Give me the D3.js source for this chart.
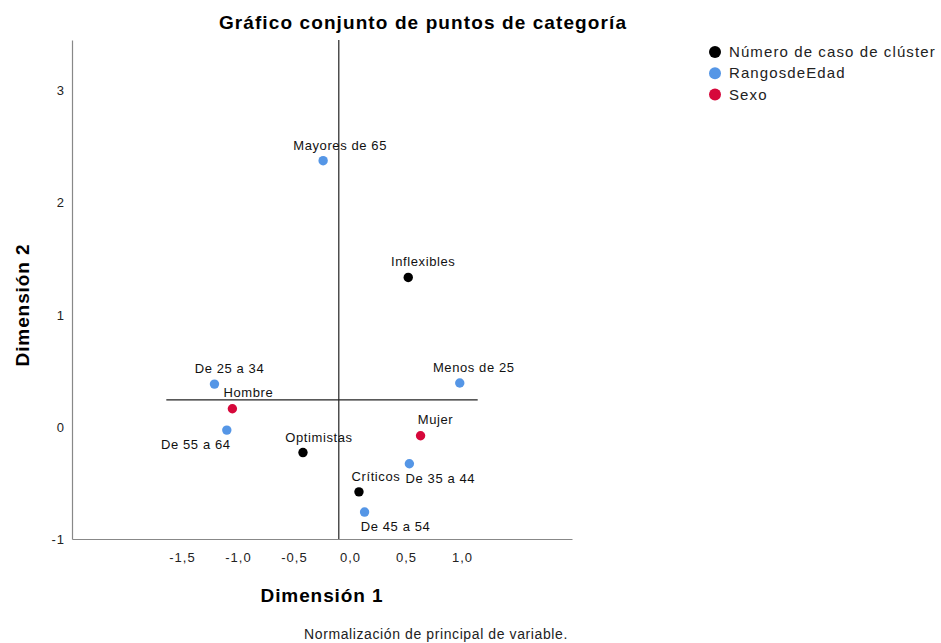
<!DOCTYPE html>
<html>
<head>
<meta charset="utf-8">
<script src="https://cdn.jsdelivr.net/npm/d3@7"></script>
<style>
  body { margin: 0; background: #fff; }
  svg { display: block; font-family: "Liberation Sans", Arial, sans-serif; }
</style>
</head>
<body>
<svg id="chart" width="941" height="643"></svg>
<script>
// category points (dimension 1, dimension 2)
const names = ["Mayores de 65", "Inflexibles", "De 25 a 34", "Menos de 25", "Hombre",
    "De 55 a 64", "Optimistas", "Mujer", "De 35 a 44", "Críticos", "De 45 a 54"];
const dim1 = [-0.24, 0.52, -1.21, 0.98, -1.05, -1.10, -0.42, 0.63, 0.53, 0.08, 0.13];
const dim2 = [2.37, 1.33, 0.38, 0.39, 0.16, -0.03, -0.23, -0.08, -0.33, -0.58, -0.76];
const groups = ["RangosdeEdad", "Número de caso de clúster", "RangosdeEdad", "RangosdeEdad", "Sexo",
    "RangosdeEdad", "Número de caso de clúster", "Sexo", "RangosdeEdad", "Número de caso de clúster", "RangosdeEdad"];

const seriesNames = ["Número de caso de clúster", "RangosdeEdad", "Sexo"];
const xTicks = [-1.5, -1.0, -0.5, 0.0, 0.5, 1.0];
const yTicks = [-1, 0, 1, 2, 3];

// reference lines shown in the plot
const refX = -0.1;
const refY = 0.24;
const refYSpan = [-1.64, 1.14];

// label placement relative to each point (dx, dy in px)
const labelOffsets = [[17, -11], [15, -11], [15, -11], [14, -11], [16, -12],
    [-31, 19], [16, -11], [15, -12], [31, 19], [17, -11], [31, 19]];

const width = 941;
const height = 643;

const svg = d3.select("#chart");

const color = d3.scaleOrdinal()
    .domain(seriesNames)
    .range(["#000000", "#5596e6", "#d6083b"]);

const x = d3.scaleLinear().domain([-2.482, 1.982]).range([72, 572]);
const y = d3.scaleLinear().domain([-1, 3.445]).range([539, 40]);

const commaFmt = v => v.toFixed(1).replace(".", ",");

// axes
const xAxis = svg.append("g")
    .attr("transform", "translate(0,539)")
    .call(d3.axisBottom(x).tickValues(xTicks).tickFormat(commaFmt).tickSize(0).tickPadding(14));

const yAxis = svg.append("g")
    .attr("transform", "translate(72,0)")
    .call(d3.axisLeft(y).tickValues(yTicks).tickFormat(v => String(v)).tickSize(0).tickPadding(7));

[xAxis, yAxis].forEach(g => {
    g.select(".domain").attr("stroke", "#888").attr("stroke-width", 1.2);
    g.selectAll("text")
        .attr("font-size", 13)
        .attr("letter-spacing", 1)
        .attr("fill", "#222")
        .attr("font-family", "Liberation Sans, Arial, sans-serif");
});
yAxis.selectAll("text").attr("dy", "0.35em");

// reference lines
svg.append("line")
    .attr("x1", x(refX)).attr("x2", x(refX))
    .attr("y1", y.range()[1]).attr("y2", y.range()[0])
    .attr("stroke", "#222").attr("stroke-width", 1.2);

svg.append("line")
    .attr("x1", x(refYSpan[0])).attr("x2", x(refYSpan[1]))
    .attr("y1", y(refY)).attr("y2", y(refY))
    .attr("stroke", "#222").attr("stroke-width", 1.2);

// points
const data = names.map((n, i) => ({ name: n, d1: dim1[i], d2: dim2[i], group: groups[i], off: labelOffsets[i] }));

svg.append("g")
    .selectAll("circle")
    .data(data)
    .join("circle")
    .attr("cx", d => x(d.d1))
    .attr("cy", d => y(d.d2))
    .attr("r", 4.7)
    .attr("fill", d => color(d.group));

svg.append("g")
    .selectAll("text")
    .data(data)
    .join("text")
    .attr("x", d => x(d.d1) + d.off[0])
    .attr("y", d => y(d.d2) + d.off[1])
    .attr("text-anchor", "middle")
    .attr("font-size", 13)
    .attr("letter-spacing", 0.6)
    .attr("fill", "#111")
    .text(d => d.name);

// title
svg.append("text")
    .attr("x", 423)
    .attr("y", 29)
    .attr("text-anchor", "middle")
    .attr("font-size", 19)
    .attr("font-weight", "bold")
    .attr("letter-spacing", 1.1)
    .text("Gráfico conjunto de puntos de categoría");

// axis titles
svg.append("text")
    .attr("x", 322)
    .attr("y", 602)
    .attr("text-anchor", "middle")
    .attr("font-size", 19)
    .attr("font-weight", "bold")
    .attr("letter-spacing", 0.9)
    .text("Dimensión 1");

svg.append("text")
    .attr("transform", "translate(29,305) rotate(-90)")
    .attr("text-anchor", "middle")
    .attr("font-size", 19)
    .attr("font-weight", "bold")
    .attr("letter-spacing", 0.9)
    .text("Dimensión 2");

// footnote
svg.append("text")
    .attr("x", 436)
    .attr("y", 639)
    .attr("text-anchor", "middle")
    .attr("font-size", 14)
    .attr("letter-spacing", 0.6)
    .attr("fill", "#222")
    .text("Normalización de principal de variable.");

// legend
const legend = svg.append("g").attr("transform", "translate(715,52)");

const items = legend.selectAll("g")
    .data(seriesNames)
    .join("g")
    .attr("transform", (d, i) => `translate(0,${i * 21.2})`);

items.append("circle")
    .attr("r", 6)
    .attr("fill", d => color(d));

items.append("text")
    .attr("x", 14)
    .attr("dy", "0.35em")
    .attr("font-size", 15)
    .attr("letter-spacing", 1.1)
    .attr("fill", "#222")
    .text(d => d);
</script>
</body>
</html>
